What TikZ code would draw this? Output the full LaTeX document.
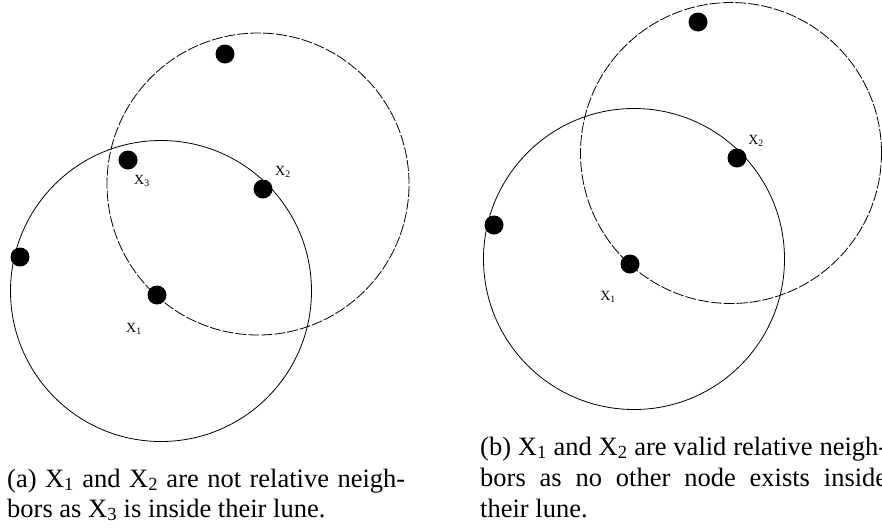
\documentclass[tikz,border=0pt]{standalone}
\usepackage{fontspec}
\setmainfont{Liberation Serif}
\begin{document}
\begin{tikzpicture}[x=1pt,y=-1pt,
  dot/.style={circle,fill=black,inner sep=0pt,minimum size=19pt},
  lbl/.style={inner sep=0pt,font=\fontsize{14}{16}\selectfont},
  solidc/.style={draw=black,line width=0.8pt},
  dashc/.style={draw=black,line width=0.8pt,dash pattern=on 11pt off 2pt},
  capline/.style={inner sep=0pt,anchor=base west,font=\fontsize{26.5}{30}\selectfont}]
\useasboundingbox (0,0) rectangle (882,528);
% ---------- panel (a)
\draw[solidc] (161,291) circle[radius=150.5pt];
\draw[dashc] (258,184) circle[radius=151pt];
\node[dot] (a0) at (225,54) {};
\node[dot] (a3) at (128,160) {};
\node[dot] (a2) at (263,189) {};
\node[dot] (a4) at (20,257) {};
\node[dot] (a1) at (157,295) {};
\node[lbl] (la3) at (142,181) {X\textsubscript{3}};
\node[lbl] (la2) at (283,172) {X\textsubscript{2}};
\node[lbl] (la1) at (134,329) {X\textsubscript{1}};
% ---------- panel (b)
\draw[solidc] (634,259) circle[radius=150.5pt];
\draw[dashc] (731,153) circle[radius=150.5pt];
\node[dot] (b0) at (698,22) {};
\node[dot] (b2) at (737,158) {};
\node[dot] (b4) at (494,225) {};
\node[dot] (b1) at (630,264) {};
\node[lbl] (lb2) at (756,141) {X\textsubscript{2}};
\node[lbl] (lb1) at (608,297) {X\textsubscript{1}};
% ---------- captions
\node[capline] (ca1) at (7,487) {\makebox[398pt][s]{(a) X\textsubscript{1} and X\textsubscript{2} are not relative neigh-}};
\node[capline] (ca2) at (7,517) {bors as X\textsubscript{3} is inside their lune.};
\node[capline] (cb1) at (480,455) {\makebox[407pt][s]{(b) X\textsubscript{1} and X\textsubscript{2} are valid relative neigh-}};
\node[capline] (cb2) at (480,486) {\makebox[407pt][s]{bors as no other node exists inside}};
\node[capline] (cb3) at (480,517) {their lune.};
\end{tikzpicture}
\end{document}
